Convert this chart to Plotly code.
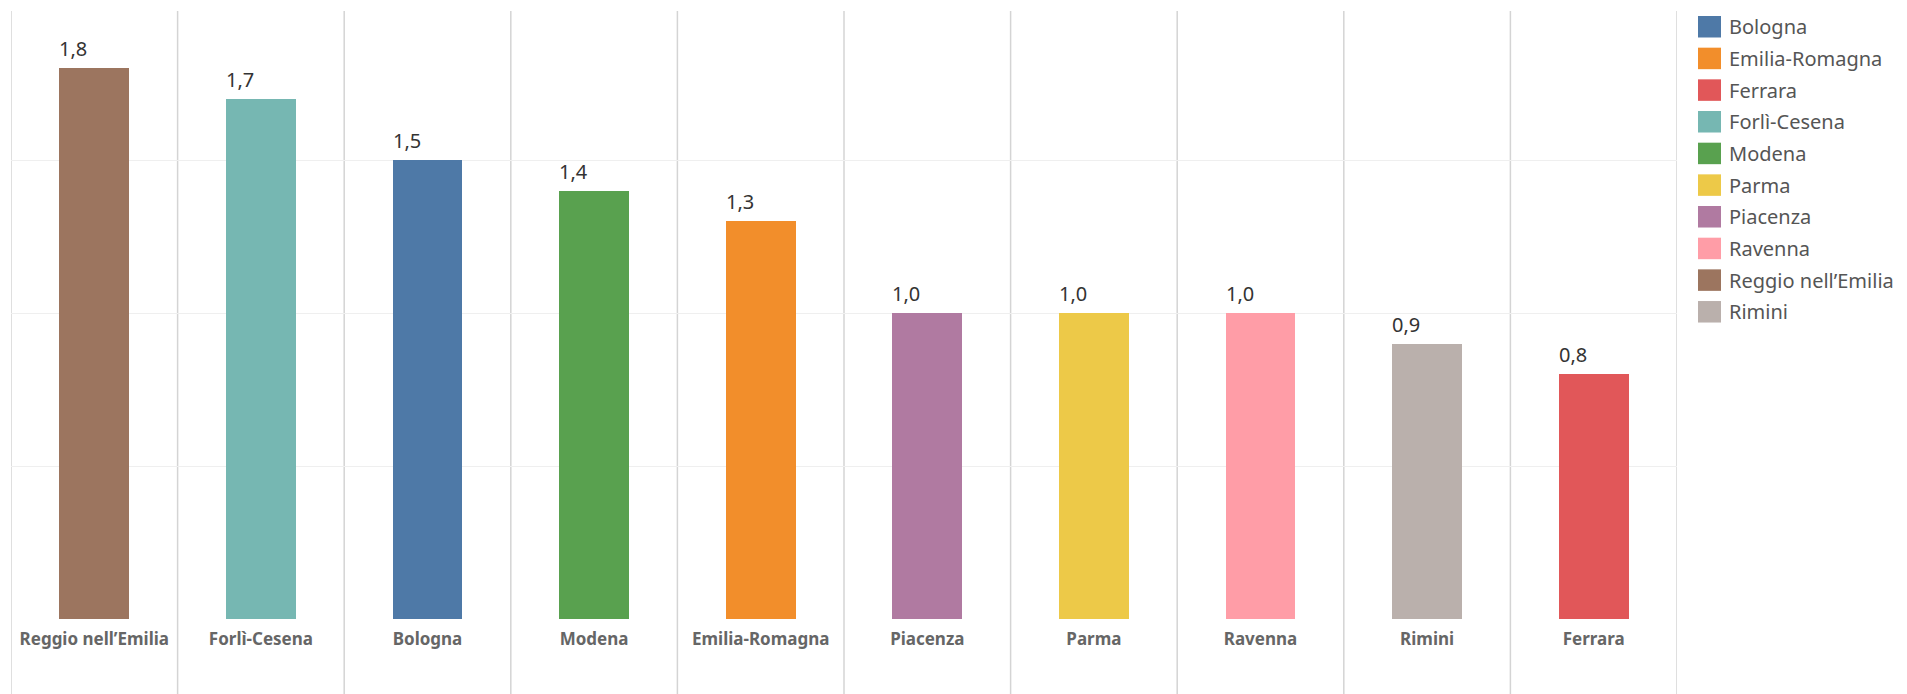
import plotly.graph_objects as go

# ---- data ----
categories = ["Reggio nell\u2019Emilia", "Forl\u00ec-Cesena", "Bologna", "Modena", "Emilia-Romagna",
              "Piacenza", "Parma", "Ravenna", "Rimini", "Ferrara"]
values = [1.8, 1.7, 1.5, 1.4, 1.3, 1.0, 1.0, 1.0, 0.9, 0.8]
legend_order = ["Bologna", "Emilia-Romagna", "Ferrara", "Forl\u00ec-Cesena", "Modena",
                "Parma", "Piacenza", "Ravenna", "Reggio nell\u2019Emilia", "Rimini"]
grid_vals = [0.5, 1.0, 1.5]

# ---- style ----
colors = {
    "Bologna": "#4e79a7",
    "Emilia-Romagna": "#f28e2b",
    "Ferrara": "#e15759",
    "Forl\u00ec-Cesena": "#76b7b2",
    "Modena": "#59a14f",
    "Parma": "#edc948",
    "Piacenza": "#b07aa1",
    "Ravenna": "#ff9da7",
    "Reggio nell\u2019Emilia": "#9c755f",
    "Rimini": "#bab0ac",
}
W, H = 1907, 694
OFF = 8  # page body margin
# screen-space layout targets
PLOT_L, PLOT_R, PLOT_T, PLOT_B = 11, 1677, 11, 619
ML, MR = PLOT_L - OFF, W - (PLOT_R - OFF)
MT, MB = PLOT_T - OFF, H - (PLOT_B - OFF)
PW, PH = W - ML - MR, H - MT - MB
BAR_W = 0.42
FONT = "Noto Sans"

def paper_x(px):
    return (px - OFF - ML) / PW

def paper_y(py):
    return (H - MB - (py - OFF)) / PH

xs = list(range(len(categories)))

fig = go.Figure()
fig.add_trace(go.Bar(
    x=xs, y=values, width=BAR_W,
    marker=dict(color=[colors[c] for c in categories], line=dict(width=0)),
    showlegend=False, hoverinfo="skip",
))

annotations = []
for i, v in zip(xs, values):
    annotations.append(dict(
        x=i - BAR_W / 2, y=v, xref="x", yref="y",
        text=f"{v:.1f}".replace(".", ","), showarrow=False,
        xanchor="left", yanchor="bottom", xshift=-2, yshift=4,
        font=dict(family=FONT, size=20, color="#333333"),
    ))

shapes = []
for k in range(len(categories) + 1):
    shapes.append(dict(
        type="line", xref="x", yref="paper",
        x0=k - 0.5, x1=k - 0.5, y0=paper_y(H + OFF), y1=1,
        line=dict(color="#d4d4d4", width=1.5), layer="below",
    ))

# custom legend
LX0, LX1 = 1698, 1721
LTOP, LSTEP, LH = 16, 31.67, 21.5
for j, name in enumerate(legend_order):
    top = LTOP + j * LSTEP
    shapes.append(dict(
        type="rect", xref="paper", yref="paper",
        x0=paper_x(LX0), x1=paper_x(LX1), y0=paper_y(top + LH), y1=paper_y(top),
        fillcolor=colors[name], line=dict(width=0),
    ))
    annotations.append(dict(
        x=paper_x(1727), y=paper_y(top + LH / 2), xref="paper", yref="paper",
        text=name, showarrow=False, xanchor="left", yanchor="middle",
        font=dict(family=FONT, size=20, color="#555555"),
    ))

fig.update_layout(
    width=W, height=H,
    margin=dict(l=ML, r=MR, t=MT, b=MB, pad=0),
    paper_bgcolor="white", plot_bgcolor="white",
    font=dict(family=FONT),
    bargap=0,
    xaxis=dict(
        tickmode="array", tickvals=xs, ticktext=[f"<b>{c}</b>" for c in categories],
        range=[-0.5, len(categories) - 0.5], showgrid=False, zeroline=False,
        showline=False, ticks="", ticklabelstandoff=8,
        tickfont=dict(family=FONT, size=17, color="#666666"),
    ),
    yaxis=dict(
        range=[0, PH / 306], tickmode="array", tickvals=grid_vals,
        showticklabels=False, showgrid=True, gridcolor="#efefef", gridwidth=1,
        zeroline=False, showline=False, ticks="",
    ),
    shapes=shapes, annotations=annotations,
)

fig.write_html("out.html")
